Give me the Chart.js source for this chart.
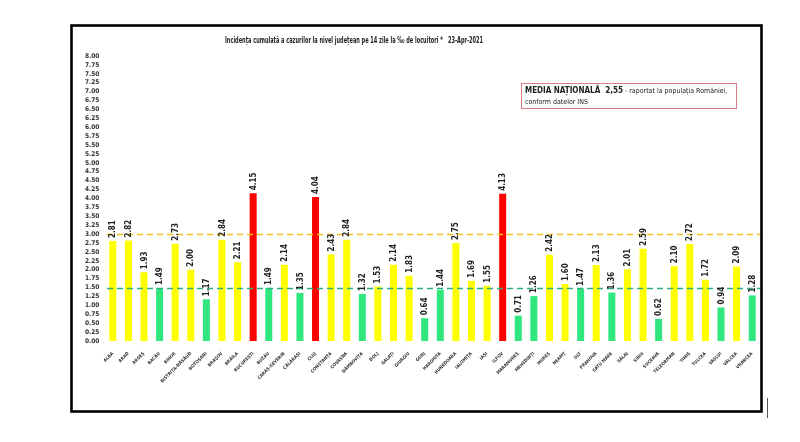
<!DOCTYPE html>
<html>
<head>
<meta charset="utf-8">
<script src="https://cdn.jsdelivr.net/npm/chart.js@4/dist/chart.umd.min.js"></script>
<style>
  html, body { margin: 0; padding: 0; background: #fff; }
  #wrap { position: relative; width: 800px; height: 442px; }
</style>
</head>
<body>
<div id="wrap"><canvas id="incidenta"></canvas></div>
<script>
const judete = ['ALBA', 'ARAD', 'ARGEȘ', 'BACĂU', 'BIHOR', 'BISTRIȚA-NĂSĂUD', 'BOTOȘANI', 'BRAȘOV', 'BRĂILA',
  'BUCUREȘTI', 'BUZĂU', 'CARAȘ-SEVERIN', 'CĂLĂRAȘI', 'CLUJ', 'CONSTANȚA', 'COVASNA', 'DÂMBOVIȚA', 'DOLJ',
  'GALAȚI', 'GIURGIU', 'GORJ', 'HARGHITA', 'HUNEDOARA', 'IALOMIȚA', 'IAȘI', 'ILFOV', 'MARAMUREȘ',
  'MEHEDINȚI', 'MUREȘ', 'NEAMȚ', 'OLT', 'PRAHOVA', 'SATU MARE', 'SĂLAJ', 'SIBIU', 'SUCEAVA',
  'TELEORMAN', 'TIMIȘ', 'TULCEA', 'VASLUI', 'VÂLCEA', 'VRANCEA'];

const incidenta = [2.81, 2.82, 1.93, 1.49, 2.73, 2.00, 1.17, 2.84, 2.21,
  4.15, 1.49, 2.14, 1.35, 4.04, 2.43, 2.84, 1.32, 1.53,
  2.14, 1.83, 0.64, 1.44, 2.75, 1.69, 1.55, 4.13, 0.71,
  1.26, 2.42, 1.60, 1.47, 2.13, 1.36, 2.01, 2.59, 0.62,
  2.10, 2.72, 1.72, 0.94, 2.09, 1.28];

// praguri (liniile punctate)
const pragGalben = 3.0;
const pragVerde = 1.5;

const titlu = 'Incidența cumulată a cazurilor la nivel județean pe 14 zile la ‰ de locuitori *   23-Apr-2021';
const mediaNationala = '2,55';

const FONT = "'Liberation Sans Narrow', 'DejaVu Sans Condensed', 'Liberation Sans', sans-serif";

const culoare = v => v > pragGalben ? '#ff0000' : (v >= pragVerde ? '#ffff00' : '#2fe77c');

const overlay = {
  id: 'overlay',
  beforeDraw(chart) {
    const ctx = chart.ctx;
    ctx.save();
    ctx.fillStyle = '#fff';
    ctx.fillRect(0, 0, chart.width, chart.height);
    ctx.restore();
  },
  afterDatasetsDraw(chart) {
    const ctx = chart.ctx;
    const y = chart.scales.y;
    const area = chart.chartArea;

    // linii de prag
    ctx.save();
    ctx.lineWidth = 1.6;
    ctx.setLineDash([6, 4]);
    [[pragGalben, '#f2c21b'], [pragVerde, '#2fae86']].forEach(([v, c]) => {
      const py = Math.round(y.getPixelForValue(v)) + 0.5;
      ctx.strokeStyle = c;
      ctx.beginPath();
      ctx.moveTo(area.left + 2, py);
      ctx.lineTo(761, py);
      ctx.stroke();
    });
    ctx.restore();

    // etichete valori
    const meta = chart.getDatasetMeta(0);
    ctx.save();
    ctx.fillStyle = '#222';
    ctx.font = 'bold 8px ' + FONT;
    ctx.textAlign = 'left';
    ctx.textBaseline = 'middle';
    meta.data.forEach((bar, i) => {
      ctx.save();
      ctx.translate(bar.x + 0.5, bar.y - 3);
      ctx.rotate(-Math.PI / 2);
      ctx.fillText(incidenta[i].toFixed(2), 0, 0);
      ctx.restore();
    });
    ctx.restore();
  },
  afterDraw(chart) {
    const ctx = chart.ctx;
    ctx.save();

    // titlu (ingustat ca in original)
    ctx.fillStyle = '#222';
    ctx.font = '600 8px ' + FONT;
    ctx.textBaseline = 'middle';
    ctx.textAlign = 'left';
    const wt = ctx.measureText(titlu).width;
    ctx.save();
    ctx.translate(225, 41);
    ctx.scale(258 / wt, 1);
    ctx.fillText(titlu, 0, 0);
    ctx.restore();

    // caseta media nationala
    ctx.strokeStyle = '#e07a86';
    ctx.lineWidth = 1;
    ctx.strokeRect(521.5, 83.5, 215, 25);
    ctx.font = 'bold 8px ' + FONT;
    const t1 = 'MEDIA NAȚIONALĂ  ' + mediaNationala;
    ctx.fillText(t1, 525, 91);
    const w1 = ctx.measureText(t1).width;
    ctx.font = '7px ' + FONT;
    ctx.fillText(' - raportat la populația României,', 525 + w1, 91);
    ctx.fillText('conform datelor INS', 525, 102);

    // chenar
    ctx.strokeStyle = '#000';
    ctx.lineWidth = 2.6;
    ctx.strokeRect(71.5, 25.5, 690, 386);
    ctx.strokeStyle = '#555';
    ctx.lineWidth = 1;
    ctx.beginPath();
    ctx.moveTo(767.5, 398);
    ctx.lineTo(767.5, 418);
    ctx.stroke();
    ctx.restore();
  }
};

new Chart(document.getElementById('incidenta'), {
  type: 'bar',
  data: {
    labels: judete,
    datasets: [{
      data: incidenta,
      backgroundColor: incidenta.map(culoare),
      borderWidth: 0,
      barPercentage: 0.45,
      categoryPercentage: 1
    }]
  },
  options: {
    responsive: true,
    maintainAspectRatio: false,
    animation: false,
    layout: { padding: { left: 85, right: 40, top: 56, bottom: 40 } },
    plugins: {
      legend: { display: false },
      tooltip: { enabled: false },
      title: { display: false }
    },
    scales: {
      x: {
        grid: { display: false },
        border: { display: false },
        ticks: {
          autoSkip: false,
          minRotation: 45,
          maxRotation: 45,
          padding: 2,
          color: '#333',
          font: { family: FONT, size: 4.5, weight: 'bold' }
        },
        afterFit: s => { s.height = 61; }
      },
      y: {
        min: 0,
        max: 8,
        grid: { display: false },
        border: { display: false },
        ticks: {
          stepSize: 0.25,
          autoSkip: false,
          padding: 5,
          color: '#333',
          crossAlign: 'far',
          font: { family: FONT, size: 6.5, weight: 'bold' },
          callback: v => v.toFixed(2)
        },
        afterFit: s => { s.width = 20; }
      }
    }
  },
  plugins: [overlay]
});
</script>
</body>
</html>
